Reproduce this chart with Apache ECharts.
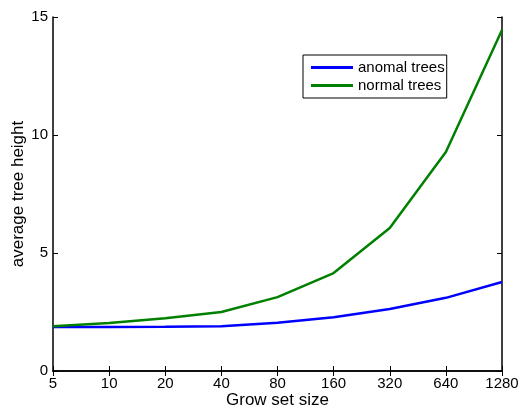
<!DOCTYPE html>
<html>
<head>
<meta charset="utf-8">
<script src="https://cdn.jsdelivr.net/npm/echarts@6/dist/echarts.min.js"></script>
<style>
  html, body { margin: 0; padding: 0; background: #fff; }
  #chart { width: 520px; height: 410px; }
</style>
</head>
<body>
<div id="chart"></div>
<script>
var growSizes = ['5', '10', '20', '40', '80', '160', '320', '640', '1280'];
var anomalTrees = [1.86, 1.86, 1.87, 1.9, 2.04, 2.28, 2.63, 3.1, 3.77];
var normalTrees = [1.9, 2.03, 2.24, 2.5, 3.13, 4.15, 6.06, 9.28, 14.45];
var yTicks = [0, 5, 10, 15];

var font = 'Liberation Sans, Arial, Helvetica, sans-serif';
var chart = echarts.init(document.getElementById('chart'));

var tick = { show: true, inside: true, length: 5, lineStyle: { color: '#000', width: 1 } };
var line = { show: true, lineStyle: { color: '#000', width: 1.5 } };

var option = {
    animation: false,
    grid: { left: 53, right: 18, top: 17, bottom: 39, outerBoundsMode: 'none', containLabel: false },
    legend: {
        orient: 'vertical',
        left: 303,
        top: 55,
        padding: [5, 2, 5, 8],
        itemGap: 3,
        itemWidth: 42,
        itemHeight: 3,
        icon: 'rect',
        borderColor: '#000',
        borderWidth: 1,
        backgroundColor: '#fff',
        textStyle: { fontFamily: font, fontSize: 15, color: '#000' },
        data: ['anomal trees', 'normal trees']
    },
    xAxis: [{
        type: 'category',
        data: growSizes,
        boundaryGap: false,
        name: 'Grow set size',
        nameLocation: 'middle',
        nameGap: 21,
        nameMoveOverlap: false,
        nameTextStyle: { fontFamily: font, fontSize: 17, color: '#000', verticalAlign: 'top' },
        axisLine: line,
        axisTick: tick,
        axisLabel: { fontFamily: font, fontSize: 15, color: '#000', margin: 5 },
        splitLine: { show: false }
    }, {
        type: 'category',
        data: growSizes,
        boundaryGap: false,
        position: 'top',
        axisLine: line,
        axisTick: tick,
        axisLabel: { show: false },
        splitLine: { show: false }
    }],
    yAxis: [{
        type: 'value',
        min: yTicks[0],
        max: yTicks[yTicks.length - 1],
        interval: 5,
        name: 'average tree height',
        nameLocation: 'middle',
        nameGap: 26,
        nameMoveOverlap: false,
        nameTextStyle: { fontFamily: font, fontSize: 17, color: '#000' },
        axisLine: line,
        axisTick: tick,
        axisLabel: { fontFamily: font, fontSize: 15, color: '#000', margin: 5 },
        splitLine: { show: false }
    }, {
        type: 'value',
        min: yTicks[0],
        max: yTicks[yTicks.length - 1],
        interval: 5,
        position: 'right',
        axisLine: line,
        axisTick: tick,
        axisLabel: { show: false },
        splitLine: { show: false }
    }],
    series: [{
        name: 'anomal trees',
        type: 'line',
        data: anomalTrees,
        showSymbol: false,
        color: '#0000ff',
        lineStyle: { width: 2.5, color: '#0000ff' }
    }, {
        name: 'normal trees',
        type: 'line',
        data: normalTrees,
        showSymbol: false,
        color: '#008000',
        lineStyle: { width: 2.5, color: '#008000' }
    }]
};

chart.setOption(option);
window.addEventListener('resize', function () {
    chart.resize();
});
</script>
</body>
</html>
